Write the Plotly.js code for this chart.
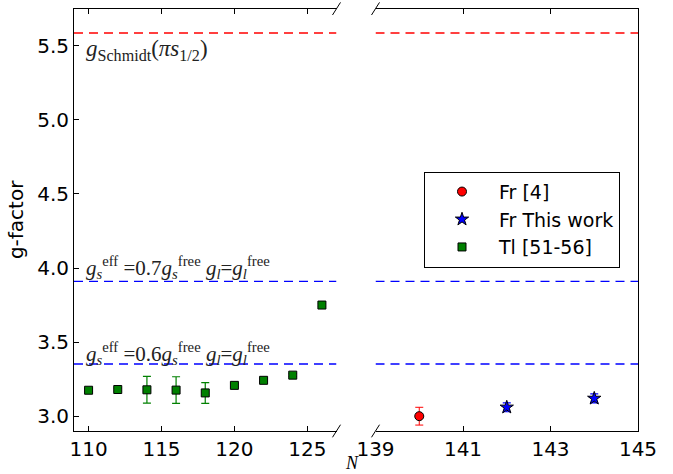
<!DOCTYPE html>
<html>
<head>
<meta charset="utf-8">
<script src="https://cdn.plot.ly/plotly-3.0.1.min.js"></script>
<style>html,body{margin:0;padding:0;background:#fff;}#chart{width:673px;height:474px;}</style>
</head>
<body>
<div id="chart"></div>
<script>
// ---- data ----
const tlN   = [110, 112, 114, 116, 118, 120, 122, 124, 126];
const tlG   = [3.175, 3.180, 3.178, 3.176, 3.157, 3.208, 3.242, 3.277, 3.750];
const tlErr = [0.01, 0.01, 0.09, 0.09, 0.07, 0.01, 0.01, 0.01, 0.01];

const fr4N   = [140];
const fr4G   = [3.00];
const fr4Err = [0.06];

const frThisN   = [142, 144];
const frThisG   = [3.06, 3.12];
const frThisErr = [0.03, 0.03];

const refValues = [5.586, 3.910, 3.352];
const refColors = ['#ff0000', '#0000ff', '#0000ff'];
const refLabels = [
  '<i>g</i><sub>Schmidt</sub>(<i>πs</i><sub>1/2</sub>)',
  '<i>g</i><sub><i>s</i></sub><sup>eff</sup> =0.7<i>g</i><sub><i>s</i></sub><sup>free</sup> <i>g</i><sub><i>l</i></sub>=<i>g</i><sub><i>l</i></sub><sup>free</sup>',
  '<i>g</i><sub><i>s</i></sub><sup>eff</sup> =0.6<i>g</i><sub><i>s</i></sub><sup>free</sup> <i>g</i><sub><i>l</i></sub>=<i>g</i><sub><i>l</i></sub><sup>free</sup>'
];
const refLabelY = [5.47, 4.005, 3.42];

const leftRange  = [109, 127];
const rightRange = [139, 145];
const yRange     = [2.9, 5.75];

// ---- layout geometry ----
const W = 673, H = 474;
const dLeft  = [74 / W, 336.5 / W];
const dRight = [375.5 / W, 638 / W];
const dY     = [1 - 431 / H, 1 - 8.7 / H];

const tickFont = {family: 'DejaVu Sans', size: 20, color: '#000'};

const traces = [
  {
    x: fr4N, y: fr4G, xaxis: 'x2', yaxis: 'y2', name: 'Fr [4]', mode: 'markers', type: 'scatter',
    marker: {symbol: 'circle', size: 9, color: '#ff0000', line: {color: '#000', width: 1}},
    error_y: {type: 'data', array: fr4Err, visible: true, color: '#ff0000', thickness: 1, width: 4}
  },
  {
    x: frThisN, y: frThisG, xaxis: 'x2', yaxis: 'y2', name: 'Fr This work', mode: 'markers', type: 'scatter',
    marker: {symbol: 'star', size: 10, color: '#0000ff', line: {color: '#000', width: 1}},
    error_y: {type: 'data', array: frThisErr, visible: true, color: '#0000ff', thickness: 1.2, width: 4}
  },
  {
    x: tlN, y: tlG, xaxis: 'x', yaxis: 'y', name: 'Tl [51-56]', mode: 'markers', type: 'scatter',
    marker: {symbol: 'square', size: 8, color: '#008000', line: {color: '#000', width: 1}},
    error_y: {type: 'data', array: tlErr, visible: true, color: '#008000', thickness: 1.2, width: 4}
  }
];

const shapes = [];
refValues.forEach((v, i) => {
  ['x', 'x2'].forEach((xr, k) => {
    const rng = k === 0 ? leftRange : rightRange;
    shapes.push({type: 'line', xref: xr, yref: k === 0 ? 'y' : 'y2', x0: rng[0], x1: rng[1], y0: v, y1: v,
      line: {color: refColors[i], width: 1.3, dash: '9px,6px'}, layer: 'below'});
  });
});
// break marks
const dx = 4 / W, dy = 6.3 / H;
[[dLeft[1], dY[1]], [dLeft[1], dY[0]], [dRight[0], dY[1]], [dRight[0], dY[0]]].forEach(p => {
  shapes.push({type: 'line', xref: 'paper', yref: 'paper', x0: p[0] - dx, y0: p[1] - dy, x1: p[0] + dx, y1: p[1] + dy,
    line: {color: '#000', width: 1}});
});

const annotations = refLabels.map((t, i) => ({
  text: t, xref: 'x', yref: 'y', x: 109.7, y: refLabelY[i], xanchor: 'left', yanchor: 'middle',
  showarrow: false, font: {family: 'Liberation Serif', size: i === 0 ? 23 : 21, color: '#222'}
}));
annotations.push({
  text: '<i>N</i>', xref: 'paper', yref: 'paper', x: 352 / W, y: 1 - 463 / H, xanchor: 'center', yanchor: 'middle',
  showarrow: false, font: {family: 'Liberation Serif', size: 18, color: '#000'}
});

const axBase = {
  showgrid: false, zeroline: false, showline: true, linecolor: '#000', linewidth: 1,
  ticks: 'inside', ticklen: 5, tickwidth: 1, tickcolor: '#000', tickfont: tickFont
};

const layout = {
  width: W, height: H,
  margin: {l: 0, r: 0, t: 0, b: 0},
  paper_bgcolor: '#fff', plot_bgcolor: '#fff',
  showlegend: true,
  legend: {
    x: 424 / W, y: 1 - 171.7 / H, xanchor: 'left', yanchor: 'top',
    bgcolor: '#fff', bordercolor: '#000', borderwidth: 1,
    font: {family: 'DejaVu Sans', size: 19, color: '#000'},
    itemwidth: 64
  },
  xaxis: Object.assign({}, axBase, {domain: dLeft, range: leftRange, anchor: 'y', mirror: 'ticks',
    tickmode: 'array', tickvals: [110, 115, 120, 125]}),
  xaxis2: Object.assign({}, axBase, {domain: dRight, range: rightRange, anchor: 'y2', mirror: 'ticks',
    tickmode: 'array', tickvals: [139, 141, 143, 145]}),
  yaxis: Object.assign({}, axBase, {domain: dY, range: yRange, anchor: 'x', mirror: false,
    tickmode: 'array', tickvals: [3.0, 3.5, 4.0, 4.5, 5.0, 5.5], ticktext: ['3.0', '3.5', '4.0', '4.5', '5.0', '5.5'],
    title: {text: 'g-factor', font: {family: 'DejaVu Sans', size: 20, color: '#000'}, standoff: 8}}),
  yaxis2: Object.assign({}, axBase, {domain: dY, range: yRange, anchor: 'x2', side: 'right', matches: 'y',
    ticks: '', showticklabels: false}),
  shapes: shapes,
  annotations: annotations
};

Plotly.newPlot('chart', traces, layout, {staticPlot: true, displayModeBar: false});
</script>
</body>
</html>
